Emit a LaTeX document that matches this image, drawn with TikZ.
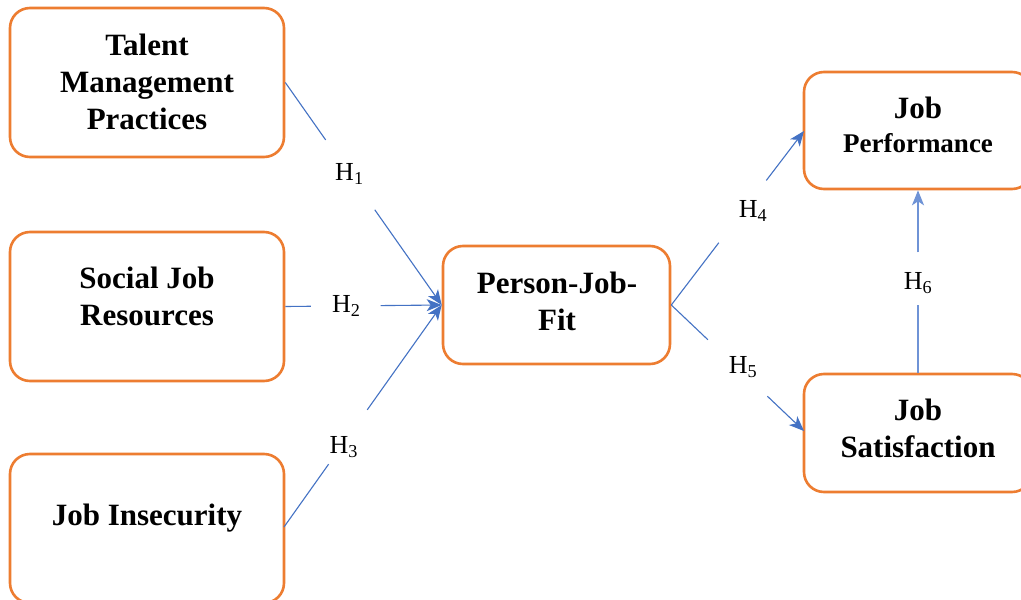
\documentclass[tikz,border=0pt]{standalone}
\usepackage{fontspec}
\setmainfont{Liberation Serif}
\usetikzlibrary{arrows.meta}
\definecolor{boxorange}{HTML}{ED7D31}
\definecolor{linkblue}{HTML}{4472C4}
\definecolor{linklight}{HTML}{6F93D6}
\begin{document}
\begin{tikzpicture}[x=1pt,y=-1pt,
  box/.style={draw=boxorange,line width=2.6pt,rounded corners=20pt,fill=white,inner sep=0pt},
  boxtxt/.style={font=\fontsize{31}{37}\selectfont\bfseries,align=center,inner sep=0pt},
  lbl/.style={font=\fontsize{26}{30}\selectfont,inner sep=0pt},
  link/.style={draw=linkblue,line width=1.1pt},
  arr/.style={link,-{Stealth[length=15pt,width=12pt,inset=4pt]}}]
\fill[white] (0,0) rectangle (1021,600);
\useasboundingbox (0,0) rectangle (1021,600);

% boxes
\node[box,minimum width=274pt,minimum height=149pt] (tmp) at (147,82.5) {};
\node[box,minimum width=274pt,minimum height=149pt] (sjr) at (147,306.5) {};
\node[box,minimum width=274pt,minimum height=149pt] (ji) at (147,528.5) {};
\node[box,minimum width=227pt,minimum height=118pt] (pjf) at (556.5,305) {};
\node[box,minimum width=228pt,minimum height=117pt] (jp) at (918,130.5) {};
\node[box,minimum width=228pt,minimum height=118pt] (js) at (918,433) {};

% texts
\node[boxtxt] (tmpt) at (147,82) {Talent\\Management\\Practices};
\node[boxtxt] (sjrt) at (147,296) {Social Job\\Resources};
\node[boxtxt] (jit) at (147,518) {Job Insecurity};
\node[boxtxt] (pjft) at (557,301) {Person-Job-\\Fit};
\node[boxtxt,font=\fontsize{31}{34}\selectfont\bfseries] (jpt) at (918,125) {Job\\{\fontsize{27}{32}\selectfont Performance}};
\node[boxtxt] (jst) at (918,428) {Job\\Satisfaction};

% H1
\path (tmp.east) -- (pjf.west)
  coordinate[pos=0.258] (a1) coordinate[pos=0.572] (b1)
  node[lbl,pos=0.41] (h1) {H\textsubscript{1}};
\draw[link] (tmp.east) -- (a1);
\draw[arr] (b1) -- (pjf.west);

% H2
\path (sjr.east) -- (pjf.west)
  coordinate[pos=0.164] (a2) coordinate[pos=0.61] (b2)
  node[lbl,pos=0.39] (h2) {H\textsubscript{2}};
\draw[link] (sjr.east) -- (a2);
\draw[arr] (b2) -- (pjf.west);

% H3
\coordinate (jie) at (284,527);
\path (jie) -- (pjf.west)
  coordinate[pos=0.283] (a3) coordinate[pos=0.528] (b3)
  node[lbl,pos=0.36,xshift=3pt] (h3) {H\textsubscript{3}};
\draw[link] (jie) -- (a3);
\draw[arr] (b3) -- (pjf.west);

% H4
\coordinate (jpw) at (804,131);
\path (pjf.east) -- (jpw)
  coordinate[pos=0.358] (a4) coordinate[pos=0.716] (b4)
  node[lbl,pos=0.54,xshift=10pt] (h4) {H\textsubscript{4}};
\draw[link] (pjf.east) -- (a4);
\draw[arr] (b4) -- (jpw);

% H5
\coordinate (jsw) at (804,431);
\path (pjf.east) -- (jsw)
  coordinate[pos=0.276] (a5) coordinate[pos=0.724] (b5)
  node[lbl,pos=0.54,yshift=6pt] (h5) {H\textsubscript{5}};
\draw[link] (pjf.east) -- (a5);
\draw[arr] (b5) -- (jsw);

% H6
\path (js.north) -- (jp.south)
  coordinate[pos=0.373] (a6) coordinate[pos=0.66] (b6)
  node[lbl,pos=0.49] (h6) {H\textsubscript{6}};
\draw[link,draw=linklight,line width=1.6pt] (js.north) -- (a6);
\draw[arr,draw=linklight,line width=1.6pt] (b6) -- (jp.south);
\end{tikzpicture}
\end{document}
